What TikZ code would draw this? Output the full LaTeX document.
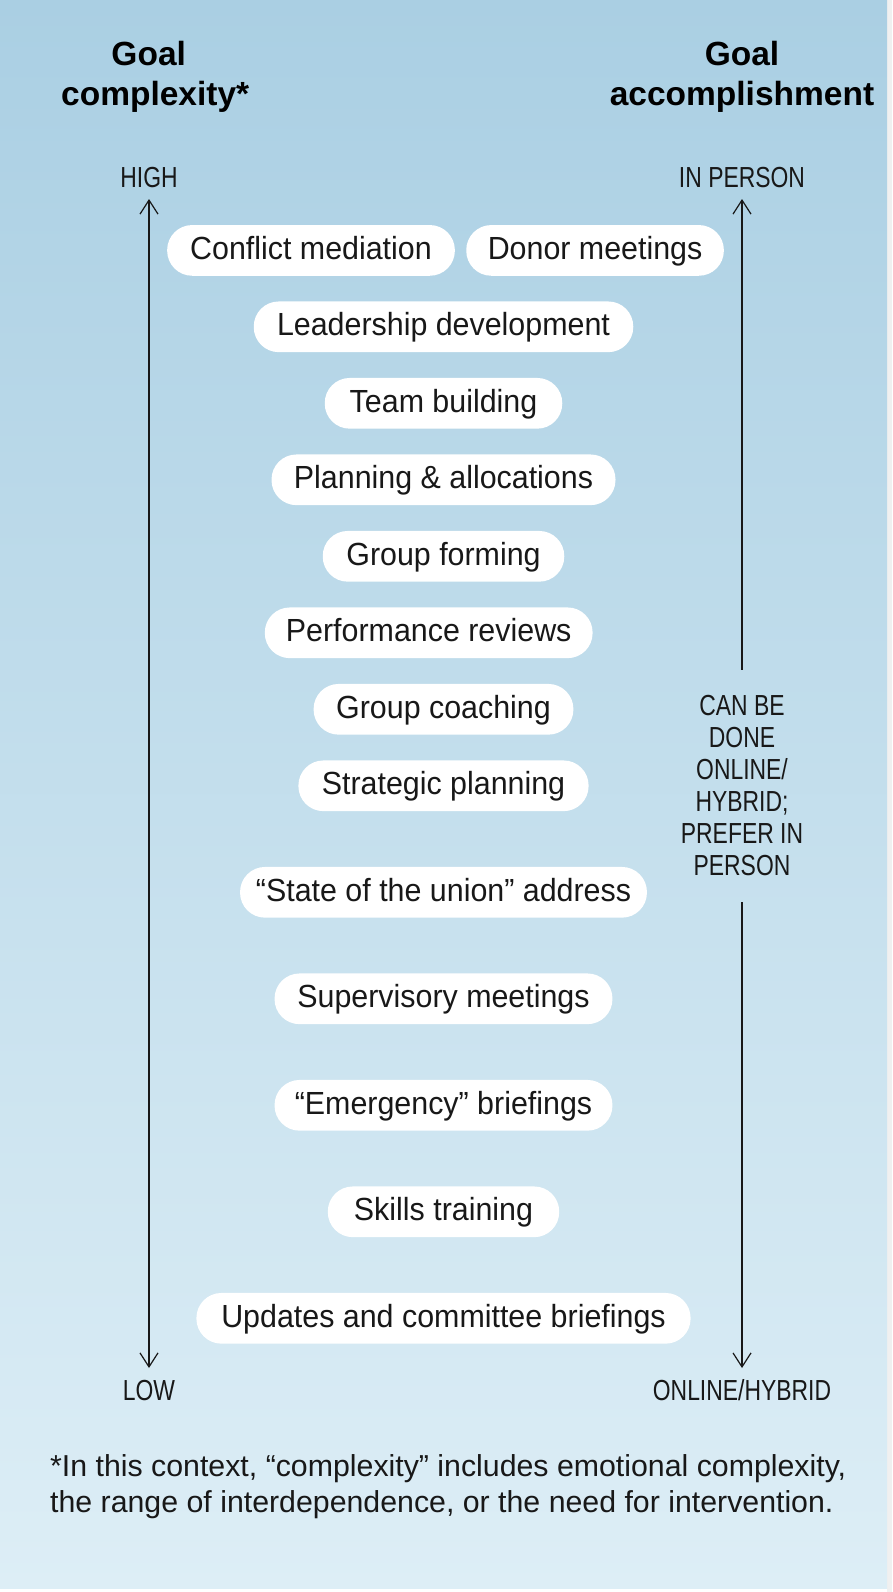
\documentclass[tikz,border=0pt]{standalone}
\usepackage{fontspec}
\setmainfont{Liberation Sans}
\newfontfamily\pillfont{Liberation Sans}[FakeStretch=0.95]
\newfontfamily\lblfont{Liberation Sans}[FakeStretch=0.79]
\usepackage{tikz}
\usetikzlibrary{arrows.meta,positioning}

\definecolor{bgtop}{RGB}{170,207,227}
\definecolor{bgbot}{RGB}{221,238,246}
\definecolor{ink}{RGB}{24,24,24}

\begin{document}
\begin{tikzpicture}[
  x=1pt, y=-1pt,
  node distance=25.4pt and 11pt,
  >={Straight Barb[length=14pt,width=18pt]},
  pill/.style={rectangle, fill=white, rounded corners=25pt, minimum height=50.7pt, inner sep=0pt, text=ink,
    font=\pillfont\fontsize{32}{38}\selectfont, text height=23.5pt, text depth=5.3pt},
  lbl/.style={text=ink, inner xsep=0pt, inner ysep=11.5pt, text height=20.8pt, text depth=0pt,
    font=\lblfont\fontsize{29}{32}\selectfont},
  note/.style={text=ink, align=center, inner xsep=0pt, inner ysep=26pt, font=\lblfont\fontsize{29}{32}\selectfont},
  head/.style={text=black, align=center, inner sep=0pt, font=\bfseries\fontsize{33.5}{40}\selectfont},
  foot/.style={text=ink, align=left, inner sep=0pt, font=\fontsize{30.3}{36}\selectfont},
  arr/.style={->, line width=1.2pt, draw=ink}
]
  % background
  \useasboundingbox (0,0) rectangle (892,1592);
  \fill[white] (0,0) rectangle (892,1592);
  \fill[gray!12] (887,0) rectangle (892,1592);
  \shade[top color=bgtop, bottom color=bgbot] (0,0) rectangle (887,1588);

  % headings
  \node[head, anchor=north] (goalcplx) at (148.7,41) {Goal\\complexity\rlap{*}};
  \node[head, anchor=north] (goalacc) at (742,41) {Goal\\accomplishment};

  % axis labels
  \node[lbl, anchor=base] (high) at (149,187.3) {HIGH};
  \node[lbl, anchor=base] (low) at (149,1400.5) {LOW};
  \node[lbl, anchor=base] (inperson) at (742,187.3) {IN PERSON};
  \node[lbl, anchor=base] (online) at (742,1400.5) {ONLINE/HYBRID};
  \node[note] (hybrid) at (742,786) {CAN BE\\DONE\\ONLINE/\\HYBRID;\\PREFER IN\\PERSON};

  % activities
  \node[pill, minimum width=287.7pt] (conflict) at (311,250.4) {Conflict mediation};
  \node[pill, minimum width=257.6pt, right=of conflict] (donor) {Donor meetings};
  \node[pill, minimum width=379.5pt] (leader) at (443.5,326.8) {Leadership development};
  \node[pill, minimum width=237.5pt, below=of leader] (team) {Team building};
  \node[pill, minimum width=344pt, below=of team] (planning) {Planning \& allocations};
  \node[pill, minimum width=241.5pt, below=of planning] (forming) {Group forming};
  \node[pill, minimum width=327.8pt, below=of forming, xshift=-14.8pt] (perf) {Performance reviews};
  \node[pill, minimum width=259.8pt, below=of perf, xshift=14.8pt] (coaching) {Group coaching};
  \node[pill, minimum width=290.2pt, below=of coaching] (strategic) {Strategic planning};
  \node[pill, minimum width=406.9pt, below=55.4pt of strategic] (union) {“State of the union” address};
  \node[pill, minimum width=337.9pt, below=55.4pt of union] (superv) {Supervisory meetings};
  \node[pill, minimum width=337.9pt, below=55.4pt of superv] (emerg) {“Emergency” briefings};
  \node[pill, minimum width=231.4pt, below=55.4pt of emerg] (skills) {Skills training};
  \node[pill, minimum width=494.2pt, below=55.4pt of skills] (updates) {Updates and committee briefings};

  % axes
  \draw[arr, <->] (high) -- (low);
  \draw[arr] (hybrid) -- (inperson);
  \draw[arr] (hybrid) -- (online);

  % footnote
  \node[foot, anchor=north west] (footnote) at (50,1454.8) {*In this context, “complexity” includes emotional complexity,\\the range of interdependence, or the need for intervention.};
\end{tikzpicture}
\end{document}
